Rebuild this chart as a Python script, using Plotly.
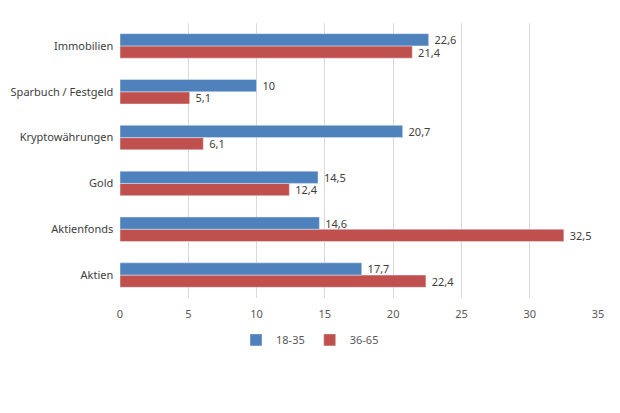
import plotly.graph_objects as go

categories = ["Aktien", "Aktienfonds", "Gold", "Kryptowährungen", "Sparbuch / Festgeld", "Immobilien"]
series_18_35 = [17.7, 14.6, 14.5, 20.7, 10, 22.6]
series_36_65 = [22.4, 32.5, 12.4, 6.1, 5.1, 21.4]
x_ticks = [0, 5, 10, 15, 20, 25, 30, 35]

fig = go.Figure()
fig.add_trace(go.Bar(
    y=categories, x=series_36_65, name="36-65", orientation="h",
    marker=dict(color="#C0504D"),
    texttemplate="\u00a0%{x}", textposition="outside", cliponaxis=False,
    constraintext="none",
    textfont=dict(color="#404040", size=11),
))
fig.add_trace(go.Bar(
    y=categories, x=series_18_35, name="18-35", orientation="h",
    marker=dict(color="#4F81BD"),
    texttemplate="\u00a0%{x}", textposition="outside", cliponaxis=False,
    constraintext="none",
    textfont=dict(color="#404040", size=11),
))

fig.update_layout(
    width=620, height=413,
    margin=dict(l=120, r=22, t=23, b=115, autoexpand=False),
    paper_bgcolor="white", plot_bgcolor="white",
    barmode="group", bargap=0.465, bargroupgap=0,
    separators=",.",
    uniformtext=dict(minsize=11, mode="show"),
    font=dict(family="Noto Sans, Open Sans, sans-serif", size=11, color="#595959"),
    xaxis=dict(range=[0, 35], tickvals=x_ticks, showgrid=True, gridcolor="#D9D9D9",
               gridwidth=1, zeroline=False, showline=False, automargin=False,
               ticks="outside", ticklen=6, tickcolor="rgba(0,0,0,0)",
               tickfont=dict(size=11, color="#595959")),
    yaxis=dict(showgrid=False, zeroline=False, showline=False, ticks="", automargin=False,
               ticksuffix="  ", tickfont=dict(size=11, color="#404040")),
    legend=dict(orientation="h", traceorder="reversed", xref="container", x=0.5,
                xanchor="center", yref="container", y=0.177, yanchor="middle",
                font=dict(size=11, color="#595959"), itemwidth=30),
    showlegend=True,
)

fig.write_html("out.html")
